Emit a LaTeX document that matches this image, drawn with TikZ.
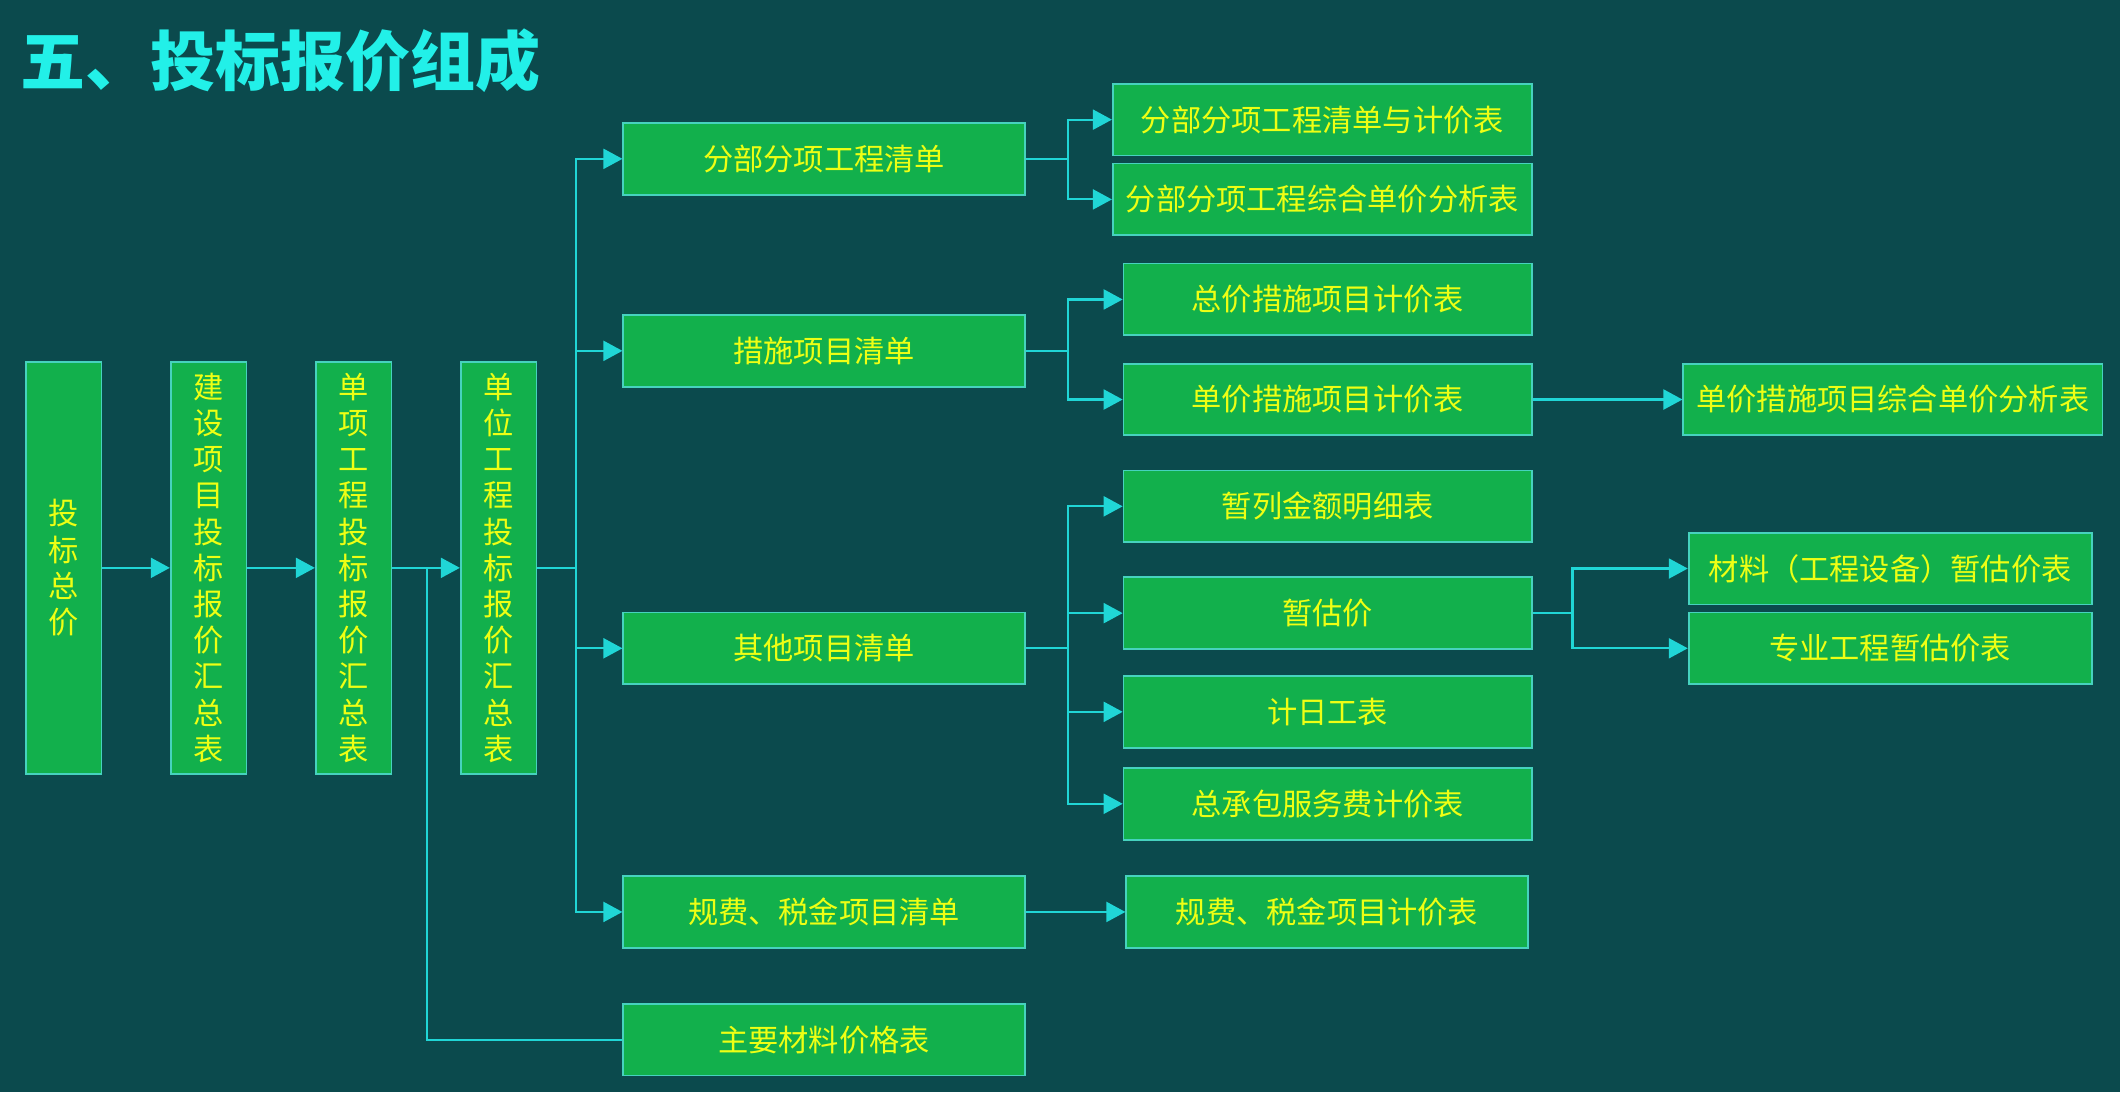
\documentclass[tikz,border=0pt]{standalone}
\usepackage{fontspec}
\setmainfont{Noto Sans CJK SC}
\usepackage{tikz}
\usetikzlibrary{arrows.meta,positioning}

\definecolor{bgteal}{RGB}{11,74,77}
\definecolor{boxgreen}{RGB}{18,176,76}
\definecolor{boxline}{RGB}{70,210,190}
\definecolor{linecyan}{RGB}{32,214,214}
\definecolor{txtyellow}{RGB}{238,255,20}
\definecolor{titlecyan}{RGB}{34,240,232}

\begin{document}
\begin{tikzpicture}[x=0.01352cm,y=-0.01352cm,->,>={Triangle[length=0.19cm,width=0.2cm]},
                    node distance=1.45cm,
                    conn/.style={color=linecyan,line width=0.6pt},
                    box/.style={draw=boxline,line width=0.5pt,fill=boxgreen,text=txtyellow,
                                inner sep=0pt,font=\fontsize{8.6}{10.3}\selectfont},
                    vbox/.style={box,minimum width=0.757cm,minimum height=4.124cm,align=center},
                    hbox/.style={box,minimum width=4.015cm,minimum height=0.717cm},
                    wbox/.style={box,minimum width=4.19cm,minimum height=0.717cm},
                    mbox/.style={box,minimum width=4.083cm,minimum height=0.717cm}]

 \fill[bgteal] (0,0) rectangle (1568,808);
 \useasboundingbox (0,0) rectangle (1568,808);

 \node[anchor=west,text=titlecyan,font=\fontsize{18.5}{20}\bfseries\selectfont] (title) at (6,45) {五、投标报价组成};

 % left column
 \node[vbox] (tbzj) at (47,420) {投\\标\\总\\价};
 \node[vbox] (jsxm) [right of=tbzj] {建\\设\\项\\目\\投\\标\\报\\价\\汇\\总\\表};
 \node[vbox] (dxgc) [right of=jsxm] {单\\项\\工\\程\\投\\标\\报\\价\\汇\\总\\表};
 \node[vbox] (dwgc) [right of=dxgc] {单\\位\\工\\程\\投\\标\\报\\价\\汇\\总\\表};

 % lists
 \node[hbox] (fbfx) at (609.5,117.5) {分部分项工程清单};
 \node[hbox] (csxm) at (609.5,259.5) {措施项目清单};
 \node[hbox] (qtxm) at (609.5,479.5) {其他项目清单};
 \node[hbox] (gfsj) at (609.5,674.5) {规费、税金项目清单};
 \node[hbox] (zycl) at (609.5,769) {主要材料价格表};

 % tables
 \node[wbox] (fbjj) at (978,88.5) {分部分项工程清单与计价表};
 \node[wbox] (fbzh) at (978,147.5) {分部分项工程综合单价分析表};
 \node[mbox] (zjcs) at (982,221.5) {总价措施项目计价表};
 \node[mbox] (djcs) at (982,295.5) {单价措施项目计价表};
 \node[mbox] (zlje) at (982,374.5) {暂列金额明细表};
 \node[mbox] (zgj)  at (982,453.5) {暂估价};
 \node[mbox] (jrgb) at (982,526.5) {计日工表};
 \node[mbox] (zcb)  at (982,594.5) {总承包服务费计价表};
 \node[hbox] (gfjj) at (981.5,674.5) {规费、税金项目计价表};

 \node[wbox] (djzh) at (1400,295.5) {单价措施项目综合单价分析表};
 \node[box,minimum width=4.03cm,minimum height=0.717cm] (clzg) at (1398,420.5) {材料（工程设备）暂估价表};
 \node[box,minimum width=4.03cm,minimum height=0.717cm] (zygc) at (1398,479.5) {专业工程暂估价表};

 % junctions
 \coordinate (j0) at (316,420);
 \coordinate (j1) at (426,420);
 \coordinate (j2) at (790,117.5);
 \coordinate (j3) at (790,259.5);
 \coordinate (j4) at (790,479.5);
 \coordinate (j5) at (1163,453.5);

 \draw[conn] (tbzj) -- (jsxm);
 \draw[conn] (jsxm) -- (dxgc);
 \draw[conn] (dxgc) -- (dwgc);
 \draw[conn] (djcs) -- (djzh);
 \draw[conn] (gfsj) -- (gfjj);

 \draw[conn,-] (j0) |- (zycl);

 \draw[conn,-] (dwgc) -- (j1);
 \draw[conn] (j1) |- (fbfx);
 \draw[conn] (j1) |- (csxm);
 \draw[conn] (j1) |- (qtxm);
 \draw[conn] (j1) |- (gfsj);

 \draw[conn,-] (fbfx) -- (j2);
 \draw[conn] (j2) |- (fbjj);
 \draw[conn] (j2) |- (fbzh);

 \draw[conn,-] (csxm) -- (j3);
 \draw[conn] (j3) |- (zjcs);
 \draw[conn] (j3) |- (djcs);

 \draw[conn,-] (qtxm) -- (j4);
 \draw[conn] (j4) |- (zlje);
 \draw[conn] (j4) |- (zgj);
 \draw[conn] (j4) |- (jrgb);
 \draw[conn] (j4) |- (zcb);

 \draw[conn,-] (zgj) -- (j5);
 \draw[conn] (j5) |- (clzg);
 \draw[conn] (j5) |- (zygc);
\end{tikzpicture}
\end{document}
